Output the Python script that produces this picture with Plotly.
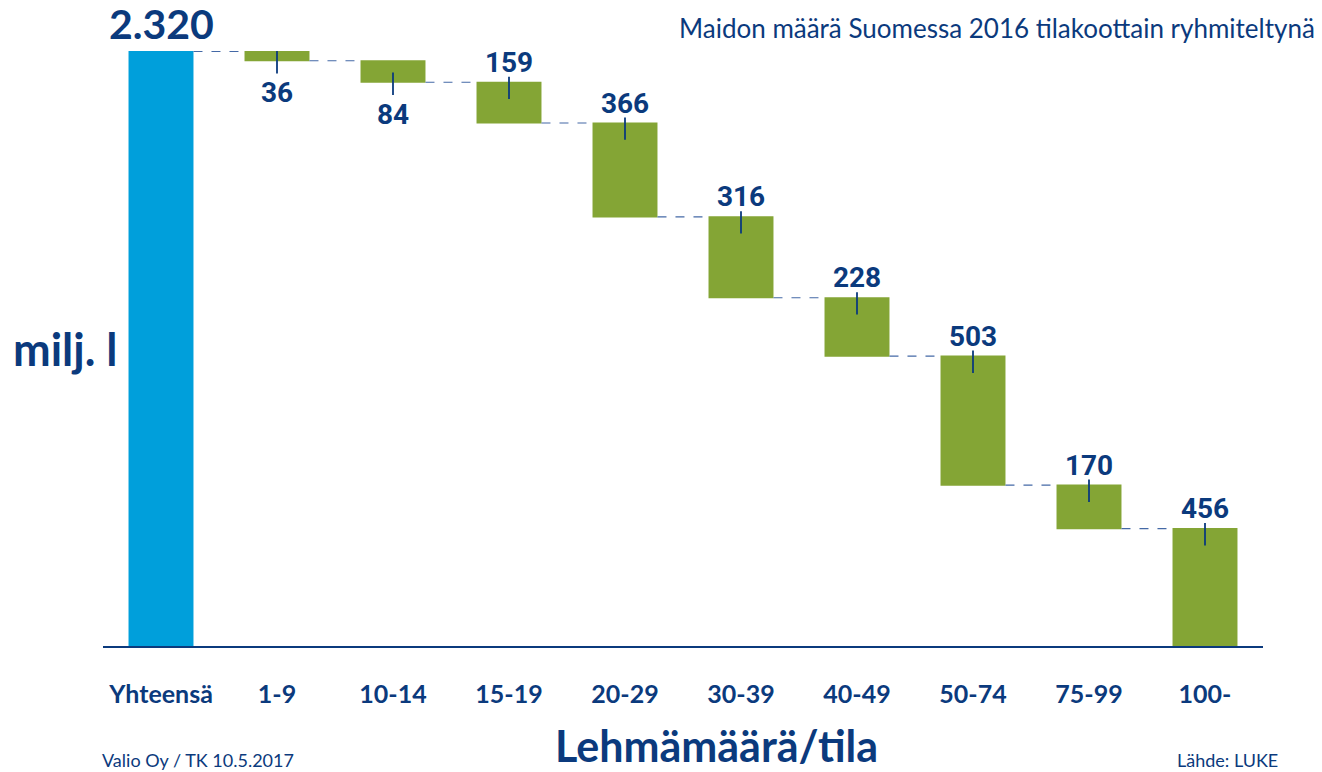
import numpy as np
import plotly.graph_objects as go

categories = ["Yhteensä", "1-9", "10-14", "15-19", "20-29", "30-39", "40-49", "50-74", "75-99", "100-"]
total = 2320
decrements = [36, 84, 159, 366, 316, 228, 503, 170, 456]

DARK = "#0b3a7d"
BLUE = "#009fdb"
GREEN = "#84a535"

measures = ["absolute"] + ["relative"] * len(decrements)
yvals = [total] + [-d for d in decrements]

fig = go.Figure()
fig.add_trace(go.Waterfall(
    x=categories, y=yvals, measure=measures,
    totals=dict(marker=dict(color=BLUE, line=dict(width=0))),
    decreasing=dict(marker=dict(color=GREEN, line=dict(width=0))),
    increasing=dict(marker=dict(color=GREEN, line=dict(width=0))),
    connector=dict(mode="between", line=dict(color="#4469a6", width=1.2, dash="dash")),
    textinfo="none", hoverinfo="skip", showlegend=False,
))

dec = np.array(decrements)
before = total - np.concatenate([[0], np.cumsum(dec)[:-1]])
after = before - dec
below = dec < 100
label_y = np.where(below, after - 135, before + 68)
tick_y = np.where(below, after - 6, before - 22)

fig.add_trace(go.Scatter(
    x=categories[1:], y=label_y, mode="text",
    text=[str(d) for d in decrements],
    textfont=dict(family="Roboto, sans-serif", size=28, color=DARK, weight="bold"),
    textposition="middle center", hoverinfo="skip", showlegend=False, cliponaxis=False,
))
fig.add_trace(go.Scatter(
    x=categories[1:], y=tick_y, mode="markers",
    marker=dict(symbol="line-ns", size=16, line=dict(color=DARK, width=1.8)),
    hoverinfo="skip", showlegend=False, cliponaxis=False,
))

# page body has an 8px margin; work in page pixels and subtract it
OFF = 8
W, H = 1322 - 2 * OFF, 772 - OFF
L, R, T = 103 - OFF, 1322 - OFF - 1263, 23
B = H - (646 - OFF)

ann = []
ann.append(dict(x=categories[0], y=total, xref="x", yref="y", yshift=28, yanchor="middle",
                text=f"{total:,}".replace(",", "."), showarrow=False,
                font=dict(family="Lato, sans-serif", size=41, color=DARK, weight="bold")))

def px(xp, yp):
    xp -= OFF
    yp -= OFF
    return (xp - L) / (W - L - R), (H - B - yp) / (H - T - B)

def add_text(xp, yp, text, size, bold=False, xanchor="center", family="Lato, sans-serif"):
    x, y = px(xp, yp)
    ann.append(dict(x=x, y=y, xref="paper", yref="paper", text=text, showarrow=False,
                    xanchor=xanchor, yanchor="middle",
                    font=dict(family=family, size=size, color=DARK, weight="bold" if bold else "normal")))

add_text(1317, 28, "Maidon määrä Suomessa 2016 tilakoottain ryhmiteltynä", 26, xanchor="right")
add_text(11, 349, "milj. l", 45, bold=True, xanchor="left")
add_text(716, 745, "Lehmämäärä/tila", 43, bold=True)
add_text(100, 760, "Valio Oy / TK 10.5.2017", 18, xanchor="left")
add_text(1280, 760, "Lähde: LUKE", 18, xanchor="right")

fig.update_layout(
    width=W, height=H,
    margin=dict(l=L, r=R, t=T, b=B),
    paper_bgcolor="white", plot_bgcolor="white",
    waterfallgap=0.44,
    annotations=ann,
    xaxis=dict(showline=True, linecolor=DARK, linewidth=1.5, ticks="outside", ticklen=25,
               tickcolor="rgba(0,0,0,0)", showgrid=False, zeroline=False,
               tickfont=dict(family="Lato, sans-serif", size=25, color=DARK, weight="bold"),
               range=[-0.5, len(categories) - 0.5]),
    yaxis=dict(range=[0, 2400], visible=False, showgrid=False, zeroline=False),
)

fig.write_html("out.html")
